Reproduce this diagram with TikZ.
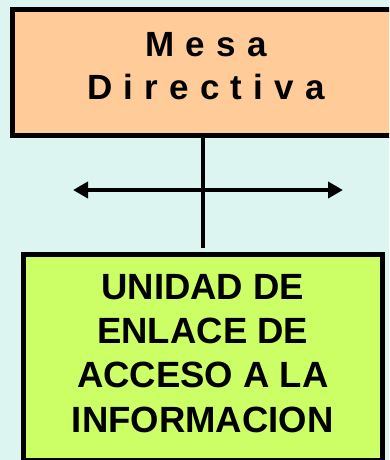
\documentclass[tikz,border=0pt]{standalone}
\usepackage{fontspec}
\setmainfont{Liberation Sans}
\newfontfamily\spacedfont[LetterSpace=32]{Liberation Sans}
\usetikzlibrary{positioning}
\usetikzlibrary{arrows.meta}
\definecolor{fondo}{HTML}{DDF5F0}
\definecolor{naranja}{HTML}{FFCC99}
\definecolor{verde}{HTML}{CCFF66}
\tikzset{
        boxnode/.style={rectangle, draw=black, line width=5pt, align=center, inner sep=0pt},
        % Mesa Directiva
        box_mesa/.style={boxnode, fill=naranja, minimum width=388pt, minimum height=126pt,
                font=\spacedfont\bfseries\fontsize{35}{43}\selectfont, text depth=13pt},
        % Unidad de enlace
        box_unidad/.style={boxnode, fill=verde, minimum width=359.5pt, minimum height=206pt,
                font=\bfseries\fontsize{36.5}{44.3}\selectfont, text depth=9pt},
        % Connectors
        link/.style={line width=4pt, black}
}
\begin{document}
\begin{tikzpicture}[x=1pt, y=-1pt]
            \clip (0,0) rectangle (389,460);
            \fill[fondo] (0,0) rectangle (389,460);
            \node[box_mesa] (mesa) at (206,72.5) {Mesa\\Directiva};
            \node[box_unidad] (unidad) at (202.75,357.5) {UNIDAD DE\\ENLACE DE\\ACCESO A LA\\INFORMACION};
            \coordinate (izq) at (73,190);
            \coordinate (der) at (343,190);
            \draw[link] (mesa.south -| unidad.north) -- ([yshift=4pt]unidad.north);
            \draw[link, {Triangle[length=15pt, width=16pt]}-{Triangle[length=15pt, width=16pt]}] (izq) -- (der);
        \end{tikzpicture}
\end{document}
